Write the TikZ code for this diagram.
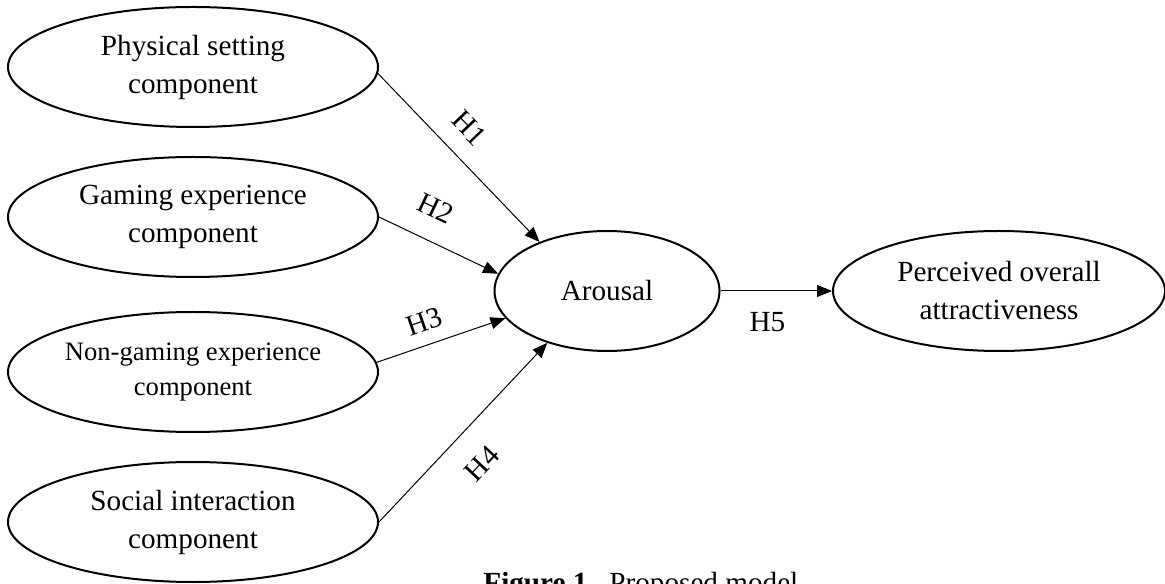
\documentclass[tikz,border=0pt]{standalone}
\usepackage{fontspec}
\setmainfont{Liberation Serif}
\usepackage{tikz}
\usetikzlibrary{arrows.meta,positioning,shapes.geometric}
\tikzset{>={Triangle[length=7.5pt,width=6pt]}}

\begin{document}
\begin{tikzpicture}[x=0.5pt, y=0.5pt,
    construct/.style={draw,ellipse,line width=1pt,inner sep=0pt,align=center,
      minimum width=185pt,minimum height=60pt,font=\fontsize{14.6}{19}\selectfont},
    hyp/.style={font=\fontsize{14.6}{19}\selectfont,inner sep=1pt,sloped}]
  \useasboundingbox (0,0) rectangle (1165,583);

  % Components
  \node[construct] (ps) at (193,516) {Physical setting\\component};
  \node[construct] (ge) at (193,366) {Gaming experience\\component};
  \node[construct,font=\fontsize{13.3}{17.5}\selectfont] (ng) at (193,211) {Non-gaming experience\\component};
  \node[construct] (si) at (193,61) {Social interaction\\component};

  % Arousal and outcome
  \node[construct,minimum width=112.5pt] (ar) at (607,292) {Arousal};
  \node[construct,minimum width=166pt] (pa) at (999,292) {Perceived overall\\attractiveness};

  % Hypotheses
  \draw[->,line width=0.5pt] (ps.-2) -- (ar.144) node[hyp,pos=0.44,above=8pt] {H1};
  \draw[->,line width=0.5pt] (ge.east) -- (ar.171) node[hyp,pos=0.36,above=10pt] {H2};
  \draw[->,line width=0.5pt] (ng.3) -- (ar.195) node[hyp,pos=0.43,above=5.5pt] {H3};
  \draw[->,line width=0.5pt] (si.east) -- (ar.221) node[hyp,pos=0.46,below=11.5pt] {H4};
  \draw[->,line width=0.5pt] (ar.east) -- (pa.west) node[hyp,pos=0.42,below=9.5pt] {H5};

  % Caption
  \node[anchor=base west,inner sep=0pt,font=\fontsize{14.6}{19}\selectfont] (cap) at (483,-9)
    {\textbf{Figure 1.}\ \ Proposed model};
\end{tikzpicture}
\end{document}
